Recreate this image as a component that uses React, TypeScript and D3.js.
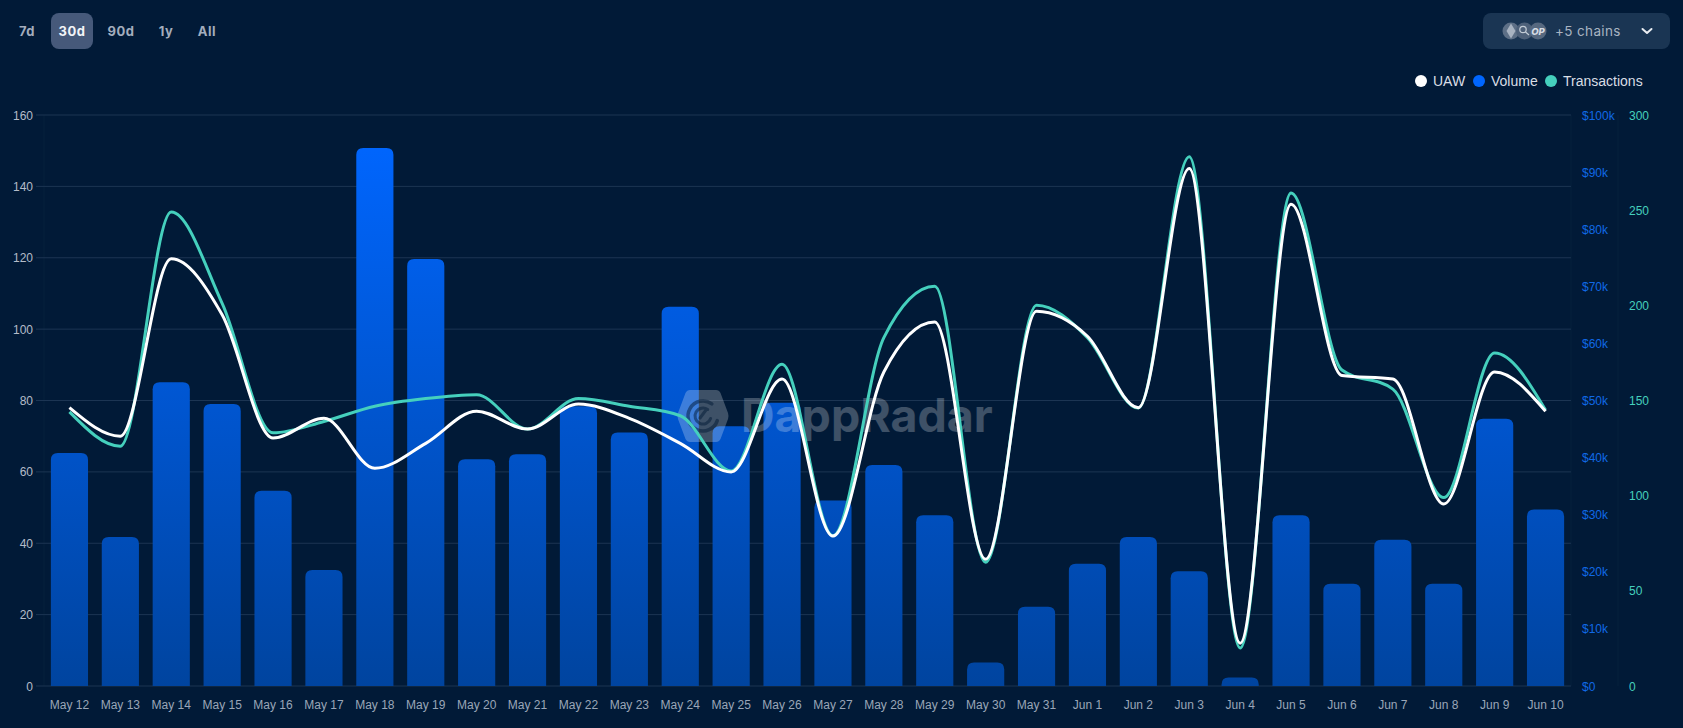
import React from "react";
import * as d3 from "d3";

const dates = ["May 12","May 13","May 14","May 15","May 16","May 17","May 18","May 19","May 20","May 21","May 22","May 23","May 24","May 25","May 26","May 27","May 28","May 29","May 30","May 31","Jun 1","Jun 2","Jun 3","Jun 4","Jun 5","Jun 6","Jun 7","Jun 8","Jun 9","Jun 10"];
const volume = [40.8,26.1,53.2,49.4,34.2,20.3,94.2,74.8,39.7,40.6,49,44.4,66.4,45.5,49.6,32.5,38.7,29.9,4.1,13.9,21.4,26.1,20.1,1.5,29.9,17.9,25.6,17.9,46.8,30.9];
const uaw = [78,70,119.7,104,69.5,75,61,68,77,72,79,75,68,60,86,42,88,102,35.5,105,98,78,145,12,135,87,86,51,88,77];
const transactions = [144,126,249,201,133,139,147,151,153,135,151,147,142,113,169,79,183,210,65,200,183,146,278,20,259,166,156,99,175,145];
const leftTicks = [0,20,40,60,80,100,120,140,160];
const volumeTicks = [0,10,20,30,40,50,60,70,80,90,100];
const txTicks = [0,50,100,150,200,250,300];
const tabs = ["7d","30d","90d","1y","All"];
const tabCenters = [27,72,121,166,207];
const legend = [
  { label: "UAW", color: "#ffffff", cx: 1421, tx: 1433 },
  { label: "Volume", color: "#0066ff", cx: 1479, tx: 1491 },
  { label: "Transactions", color: "#45d0bd", cx: 1551, tx: 1563 },
];

const W = 1683, H = 728;
const L = 44, R = 1571, T = 115, B = 686;
const UI_FONT = "Inter, Roboto, sans-serif";
const AXIS_FONT = "'Liberation Sans', Arial, sans-serif";

function arc(cx: number, cy: number, r: number, a0: number, a1: number) {
  const p = d3.path();
  p.arc(cx, cy, r, a0, a1);
  return p.toString();
}

export default function App() {
  const x = d3.scaleBand<string>().domain(dates).range([L, R]).paddingInner(0.27).paddingOuter(0.135);
  const yL = d3.scaleLinear().domain([0, 160]).range([B, T]);
  const yV = d3.scaleLinear().domain([0, 100]).range([B, T]);
  const yT = d3.scaleLinear().domain([0, 300]).range([B, T]);
  const cx = (i: number) => (x(dates[i]) as number) + x.bandwidth() / 2;
  const lineU = d3.line<number>().x((_, i) => cx(i)).y(d => yL(d)).curve(d3.curveMonotoneX);
  const lineT = d3.line<number>().x((_, i) => cx(i)).y(d => yT(d)).curve(d3.curveMonotoneX);

  const barPath = (v: number, i: number) => {
    const x0 = x(dates[i]) as number, w = x.bandwidth();
    const top = yV(v), r = Math.min(7, B - top);
    return `M${x0},${B}V${top + r}Q${x0},${top} ${x0 + r},${top}H${x0 + w - r}Q${x0 + w},${top} ${x0 + w},${top + r}V${B}Z`;
  };

  return (
    <svg width={W} height={H} viewBox={`0 0 ${W} ${H}`} style={{ position: "fixed", left: 0, top: 0, display: "block" }} fontFamily={AXIS_FONT}>
      <defs>
        <linearGradient id="barGrad" gradientUnits="userSpaceOnUse" x1="0" x2="0" y1={T + 20} y2={B}>
          <stop offset="0" stopColor="#0066ff" />
          <stop offset="1" stopColor="#00449f" />
        </linearGradient>
      </defs>
      <rect width={W} height={H} fill="#011a37" />

      {tabs.map((t, i) => (
        <g key={t}>
          {t === "30d" && <rect x={51} y={13} width={42} height={36} rx={8} fill="#46597a" />}
          <text x={tabCenters[i]} y={36} textAnchor="middle" fontFamily={UI_FONT} fontSize={13} fontWeight={700} letterSpacing={0.5}
            fill={t === "30d" ? "#f2f4f7" : "#a3adbd"}>{t}</text>
        </g>
      ))}

      <rect x={1483} y={13} width={187} height={36} rx={8} fill="#1a3553" />
      <circle cx={1511} cy={31} r={8.5} fill="#5d6f86" />
      <path d="M1511,23.5l4.5,7.5l-4.5,7.5l-4.5,-7.5z" fill="#a8b3c1" />
      <circle cx={1524.5} cy={31} r={8.5} fill="#4d6079" />
      <circle cx={1523} cy={29.5} r={3.2} fill="none" stroke="#c3ccd6" strokeWidth={1.2} />
      <path d="M1525.5,32l3.5,3" stroke="#c3ccd6" strokeWidth={1.2} />
      <circle cx={1538} cy={31} r={8.5} fill="#56687f" />
      <text x={1538} y={34.5} textAnchor="middle" fontFamily={UI_FONT} fontSize={9.5} fontWeight={800} fontStyle="italic" fill="#d5dbe3">OP</text>
      <text x={1555} y={36} fontFamily={UI_FONT} fontSize={13.5} letterSpacing={0.35} fill="#a9b4c2">+5 chains</text>
      <path d="M1642.5,29l4.5,4l4.5,-4" fill="none" stroke="#e8ecf1" strokeWidth={2} strokeLinecap="round" strokeLinejoin="round" />

      {legend.map(l => (
        <g key={l.label}>
          <circle cx={l.cx} cy={81} r={6} fill={l.color} />
          <text x={l.tx} y={86} fontSize={14} fill="#d9dee5">{l.label}</text>
        </g>
      ))}

      <line x1={L} x2={L} y1={T} y2={B} stroke="#06203d" />
      <line x1={R} x2={R} y1={T} y2={B} stroke="#06203d" />
      <line x1={1618} x2={1618} y1={T} y2={B} stroke="#06203d" />
      {leftTicks.map(t => (
        <g key={t}>
          <line x1={36} x2={R} y1={yL(t)} y2={yL(t)} stroke="#1c3553" strokeWidth={1} />
          <text x={33} y={yL(t) + 4.5} textAnchor="end" fontSize={12} fill="#b4bcc9">{t}</text>
        </g>
      ))}
      {volumeTicks.map(t => (
        <text key={t} x={1582} y={yV(t) + 4.5} fontSize={12} fill="#1069e6">{t === 0 ? "$0" : `$${t}k`}</text>
      ))}
      {txTicks.map(t => (
        <text key={t} x={1629} y={yT(t) + 4.5} fontSize={12} fill="#45d0bd">{t}</text>
      ))}

      {volume.map((v, i) => <path key={dates[i]} d={barPath(v, i)} fill="url(#barGrad)" />)}
      {dates.map((d, i) => (
        <text key={d} x={cx(i)} y={709} textAnchor="middle" fontSize={12} fill="#9aa6b8">{d}</text>
      ))}

      <g opacity={0.24} fill="#ffffff">
        <path d="M690,390L716,390Q719,390 720.5,393L728,413Q729,416 728,419L720.5,439Q719,442 716,442L690,442Q687,442 685.5,439L678,419Q677,416 678,413L685.5,393Q687,390 690,390Z" />
        <text x={741} y={432} fontSize={46.5} fontWeight={700} fontFamily={UI_FONT}>DappRadar</text>
      </g>
      <g fill="none" stroke="#011a37" opacity={0.5} strokeLinecap="round">
        <path d={arc(703, 416, 15, Math.PI * 0.1, Math.PI * 1.7)} strokeWidth={3.5} />
        <path d={arc(703, 416, 8, Math.PI * 0.1, Math.PI * 1.7)} strokeWidth={3} />
        <path d="M700,418L706,410" strokeWidth={3} />
      </g>

      <path d={lineT(transactions) as string} fill="none" stroke="#45d0bd" strokeWidth={3} />
      <path d={lineU(uaw) as string} fill="none" stroke="#ffffff" strokeWidth={3} />
    </svg>
  );
}
